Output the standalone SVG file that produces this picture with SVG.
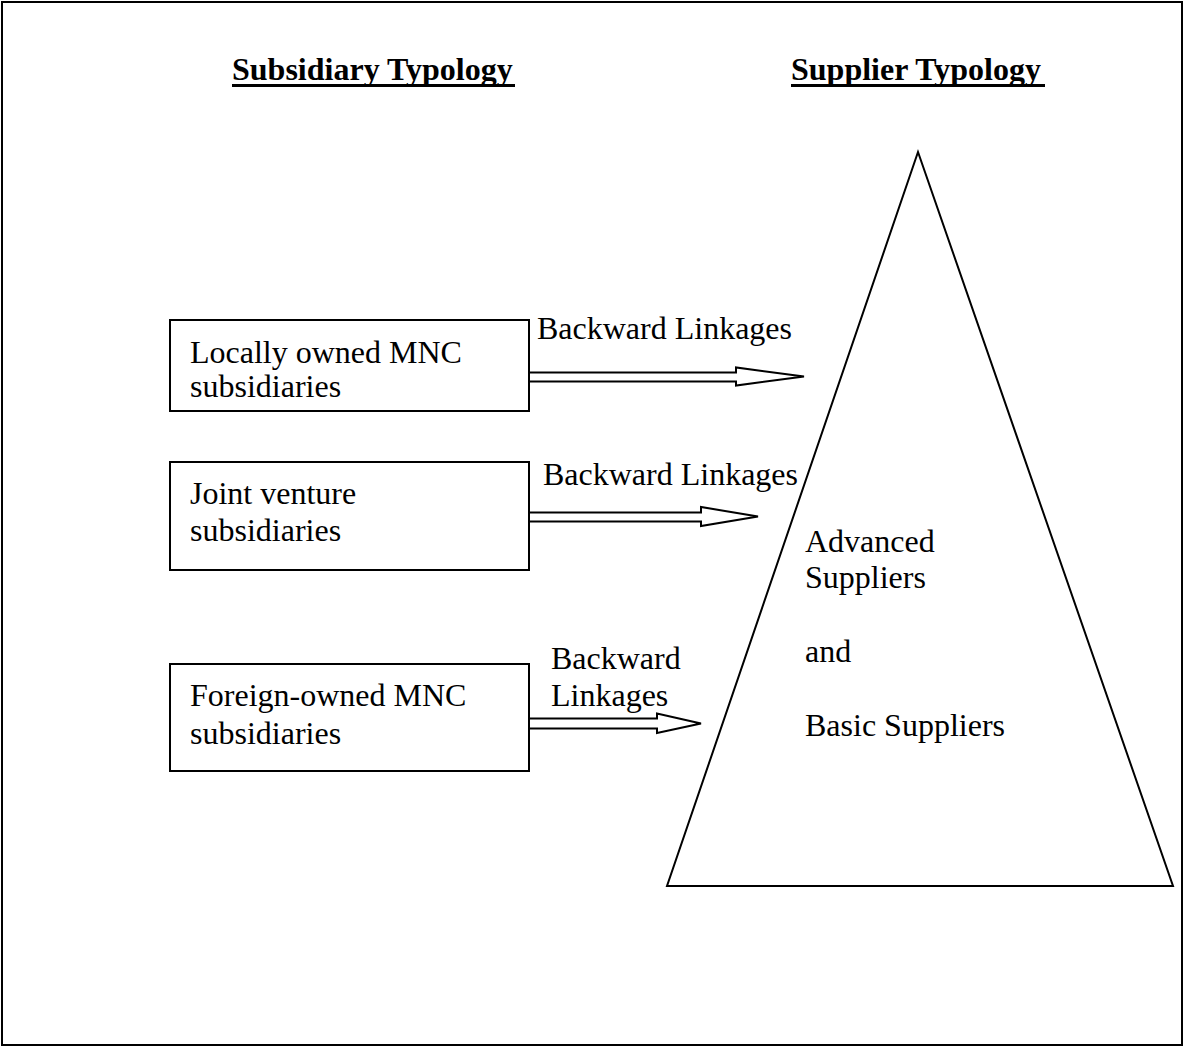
<svg xmlns="http://www.w3.org/2000/svg" width="1184" height="1049" viewBox="0 0 1184 1049">
  <style>
    .frame { fill: #fff; stroke: #000; stroke-width: 2; }
    .box { fill: #fff; stroke: #000; stroke-width: 2; }
    .tri { fill: #fff; stroke: #000; stroke-width: 2; stroke-linejoin: miter; }
    .arrow { fill: #fff; stroke: #000; stroke-width: 2; stroke-linejoin: miter; }
    .t { font-family: "Liberation Serif", "Times New Roman", serif; font-size: 32px; fill: #000; }
    .h { font-family: "Liberation Serif", "Times New Roman", serif; font-size: 32px; font-weight: bold; fill: #000; }
  </style>

  <!-- page frame -->
  <rect class="frame" x="2" y="2" width="1180" height="1043"/>

  <!-- column headings -->
  <g id="heading-subsidiary">
    <text class="h" x="232" y="80">Subsidiary Typology</text>
    <rect x="232" y="84" width="283" height="3" fill="#000"/>
  </g>
  <g id="heading-supplier">
    <text class="h" x="791" y="80">Supplier Typology</text>
    <rect x="791" y="84" width="254" height="3" fill="#000"/>
  </g>

  <!-- supplier pyramid -->
  <g id="supplier-pyramid">
    <polygon class="tri" points="918,152 667,886 1173,886"/>
    <text class="t" x="805" y="552">Advanced</text>
    <text class="t" x="805" y="588">Suppliers</text>
    <text class="t" x="805" y="662">and</text>
    <text class="t" x="805" y="736">Basic Suppliers</text>
  </g>

  <!-- subsidiary boxes -->
  <g id="locally-owned">
    <rect class="box" x="170" y="320" width="359" height="91"/>
    <text class="t" x="190" y="363">Locally owned MNC</text>
    <text class="t" x="190" y="397">subsidiaries</text>
  </g>
  <g id="joint-venture">
    <rect class="box" x="170" y="462" width="359" height="108"/>
    <text class="t" x="190" y="504">Joint venture</text>
    <text class="t" x="190" y="541">subsidiaries</text>
  </g>
  <g id="foreign-owned">
    <rect class="box" x="170" y="664" width="359" height="107"/>
    <text class="t" x="190" y="706">Foreign-owned MNC</text>
    <text class="t" x="190" y="744">subsidiaries</text>
  </g>

  <!-- backward linkage arrows -->
  <g id="connectors">
    <polygon class="arrow" points="529,372.5 736,372.5 736,367.5 804,376.5 736,385.5 736,381.5 529,381.5"/>
    <text class="t" x="537" y="339">Backward Linkages</text>
    <polygon class="arrow" points="529,512.5 701,512.5 701,507 758,516.5 701,526 701,521.5 529,521.5"/>
    <text class="t" x="543" y="485">Backward Linkages</text>
    <polygon class="arrow" points="529,718.5 657,718.5 657,713.5 701,723.5 657,733 657,728.5 529,728.5"/>
    <text class="t" x="551" y="669">Backward</text>
    <text class="t" x="551" y="706">Linkages</text>
  </g>
</svg>
